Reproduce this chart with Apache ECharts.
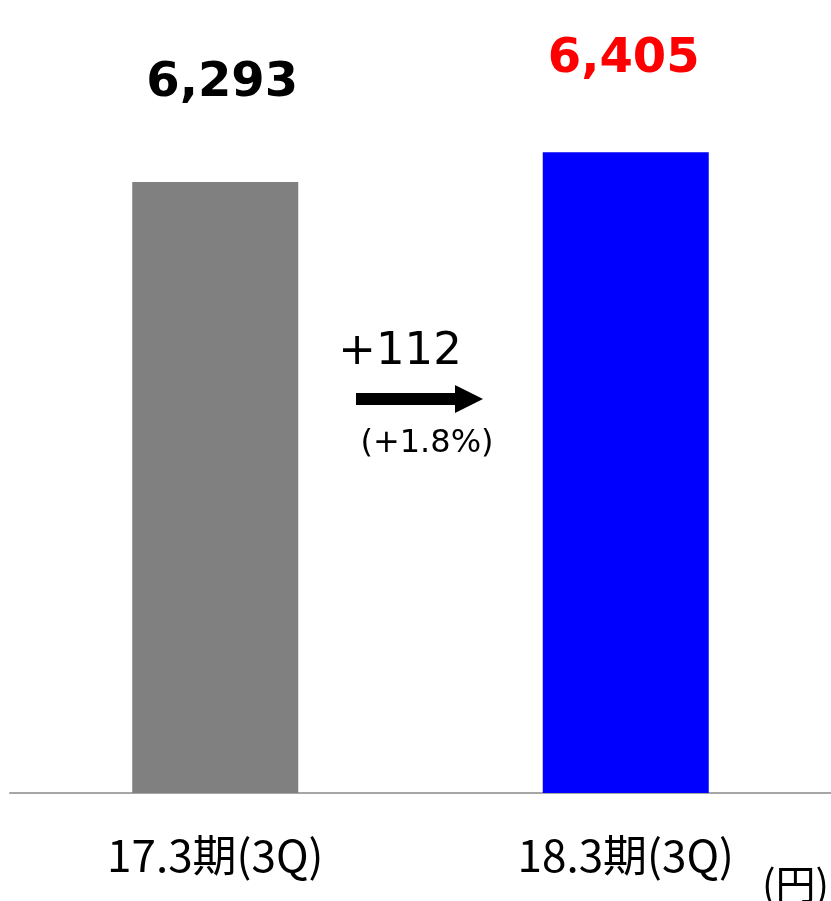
<!DOCTYPE html>
<html>
<head>
<meta charset="utf-8">
<script src="https://cdn.jsdelivr.net/npm/echarts@6/dist/echarts.min.js"></script>
<style>
html,body{margin:0;padding:0;background:#fff;}
#main{width:831px;height:901px;}
</style>
</head>
<body>
<div id="main"></div>
<script>
var categories = ['17.3期(3Q)', '18.3期(3Q)'];
var values = [6293, 6405];
var barColors = ['#808080', '#0000FF'];
var labelColors = ['#000000', '#FF0000'];
var labelDistance = [75, 69];
var labelShift = [7, -2];
var diffText = '+112';
var ratioText = '(+1.8%)';
var unitText = '(円)';

var myChart = echarts.init(document.getElementById('main'));

var barData = [];
for (var i = 0; i < values.length; i++) {
    barData.push({
        value: values[i],
        itemStyle: { color: barColors[i] },
        label: { color: labelColors[i], distance: labelDistance[i], offset: [labelShift[i], 0] }
    });
}

var option = {
    animation: false,
    backgroundColor: '#ffffff',
    grid: { left: 10, right: -3, top: 47, bottom: 108 },
    xAxis: {
        type: 'category',
        data: categories,
        axisTick: { show: false },
        axisLine: { lineStyle: { color: '#A6A6A6', width: 2 } },
        axisLabel: {
            margin: 40,
            fontSize: 44,
            color: '#000',
            fontFamily: 'Noto Sans CJK JP'
        }
    },
    yAxis: {
        type: 'value',
        min: 4000,
        max: 6800,
        show: false,
        splitLine: { show: false }
    },
    series: [{
        type: 'bar',
        barWidth: 166,
        data: barData,
        label: {
            show: true,
            position: 'top',
            fontSize: 48,
            fontWeight: 'bold',
            fontFamily: 'DejaVu Sans',
            formatter: function (p) {
                return p.value.toLocaleString('en-US');
            }
        }
    }],
    graphic: [
        {
            type: 'text',
            style: {
                text: diffText, x: 400, y: 352,
                fill: '#000', font: '45px "DejaVu Sans"',
                textAlign: 'center', textVerticalAlign: 'middle'
            }
        },
        {
            type: 'polygon',
            shape: { points: [[356, 393], [455, 393], [455, 385], [483, 399], [455, 413], [455, 405], [356, 405]] },
            style: { fill: '#000' }
        },
        {
            type: 'text',
            style: {
                text: ratioText, x: 427, y: 444,
                fill: '#000', font: '32px "DejaVu Sans"',
                textAlign: 'center', textVerticalAlign: 'middle'
            }
        },
        {
            type: 'text',
            style: {
                text: unitText, x: 829, y: 884,
                fill: '#000', font: '40px "Noto Sans CJK JP"',
                textAlign: 'right', textVerticalAlign: 'middle'
            }
        }
    ]
};

myChart.setOption(option);
</script>
</body>
</html>
